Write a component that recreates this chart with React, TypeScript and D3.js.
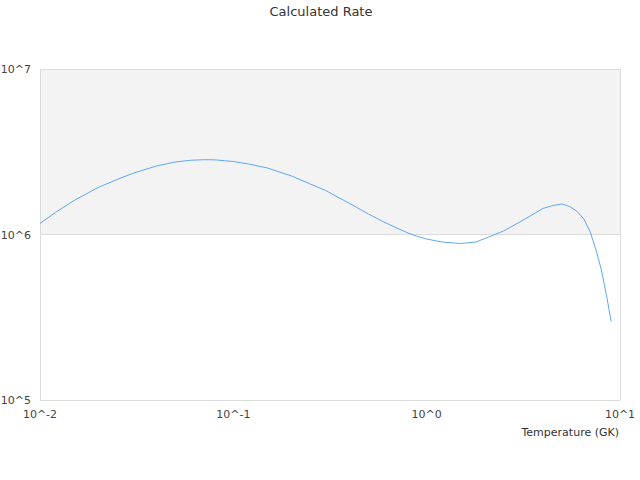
import { useEffect, useRef } from "react";
import * as d3 from "d3";

// temperature grid (GK) and the calculated rate
const temps = [0.01, 0.012, 0.015, 0.02, 0.025, 0.03, 0.04, 0.05, 0.06, 0.07, 0.08, 0.09, 0.1, 0.12, 0.15, 0.2, 0.25, 0.3, 0.4, 0.5, 0.6, 0.7, 0.8, 0.9, 1.0, 1.2, 1.5, 1.8, 2.0, 2.5, 3.0, 3.5, 4.0, 4.5, 5.0, 5.5, 6.0, 6.5, 7.0, 7.5, 8.0, 8.5, 9.0];
const rates = [1.166e6, 1.358e6, 1.605e6, 1.923e6, 2.149e6, 2.336e6, 2.594e6, 2.742e6, 2.808e6, 2.831e6, 2.827e6, 2.792e6, 2.761e6, 2.667e6, 2.522e6, 2.257e6, 2.019e6, 1.845e6, 1.539e6, 1.33e6, 1.19e6, 1.095e6, 1.021e6, 0.973e6, 0.939e6, 0.901e6, 0.882e6, 0.901e6, 0.946e6, 1.05e6, 1.182e6, 1.311e6, 1.438e6, 1.497e6, 1.529e6, 1.476e6, 1.377e6, 1.241e6, 1.043e6, 0.812e6, 0.615e6, 0.434e6, 0.298e6];
const xTicks = [0.01, 0.1, 1, 10];
const xTickLabels = ["10^-2", "10^-1", "10^0", "10^1"];
const yTicks = [1e5, 1e6, 1e7];
const yTickLabels = ["10^5", "10^6", "10^7"];

export default function App() {
    const svgRef = useRef<SVGSVGElement>(null);

    useEffect(() => {
        if (!svgRef.current) return;
        const W = 640, H = 480;
        const margin = { top: 69, right: 20, bottom: 80, left: 40 };
        const width = W - margin.left - margin.right;
        const height = H - margin.top - margin.bottom;
        const font = "'DejaVu Sans', sans-serif";

        const svg = d3.select(svgRef.current);
        svg.selectAll("*").remove();
        svg.attr("width", W).attr("height", H).attr("viewBox", `0 0 ${W} ${H}`);

        svg.append("text").attr("x", 321).attr("y", 16).attr("text-anchor", "middle")
            .attr("font-family", font).attr("font-size", "13px").attr("fill", "#333")
            .text("Calculated Rate");

        const g = svg.append("g").attr("transform", `translate(${margin.left},${margin.top})`);
        const x = d3.scaleLog().domain([0.01, 10]).range([0, width]);
        const y = d3.scaleLog().domain([1e5, 1e7]).range([height, 0]);

        // alternating band: 10^6 – 10^7 shaded
        g.append("rect").attr("x", 0).attr("y", y(1e7)).attr("width", width).attr("height", y(1e6) - y(1e7))
            .attr("fill", "#f3f3f3");

        // grid lines + frame
        yTicks.forEach(t => {
            g.append("line").attr("x1", 0).attr("x2", width).attr("y1", y(t)).attr("y2", y(t))
                .attr("stroke", "#dcdcdc").attr("stroke-width", 1).attr("shape-rendering", "crispEdges");
        });
        [0, width].forEach(px => {
            g.append("line").attr("x1", px).attr("x2", px).attr("y1", 0).attr("y2", height)
                .attr("stroke", "#dcdcdc").attr("stroke-width", 1).attr("shape-rendering", "crispEdges");
        });

        // y tick labels
        yTicks.forEach((t, i) => {
            g.append("text").attr("x", -9).attr("y", y(t) + 4).attr("text-anchor", "end")
                .attr("font-family", font).attr("font-size", "11px").attr("fill", "#444")
                .text(yTickLabels[i]);
        });

        // x tick labels
        xTicks.forEach((t, i) => {
            g.append("text").attr("x", x(t)).attr("y", height + 17.5).attr("text-anchor", "middle")
                .attr("font-family", font).attr("font-size", "11px").attr("fill", "#444")
                .text(xTickLabels[i]);
        });

        g.append("text").attr("x", width - 1).attr("y", height + 36).attr("text-anchor", "end")
            .attr("font-family", font).attr("font-size", "11px").attr("fill", "#333")
            .text("Temperature (GK)");

        // rate curve
        const line = d3.line<number>().x((_, i) => x(temps[i])).y(d => y(d));
        g.append("path").datum(rates).attr("d", line)
            .attr("fill", "none").attr("stroke", "#5fa8f5").attr("stroke-width", 1);
    }, []);

    return <svg ref={svgRef} style={{ display: "block", position: "absolute", left: 0, top: 0 }} />;
}
